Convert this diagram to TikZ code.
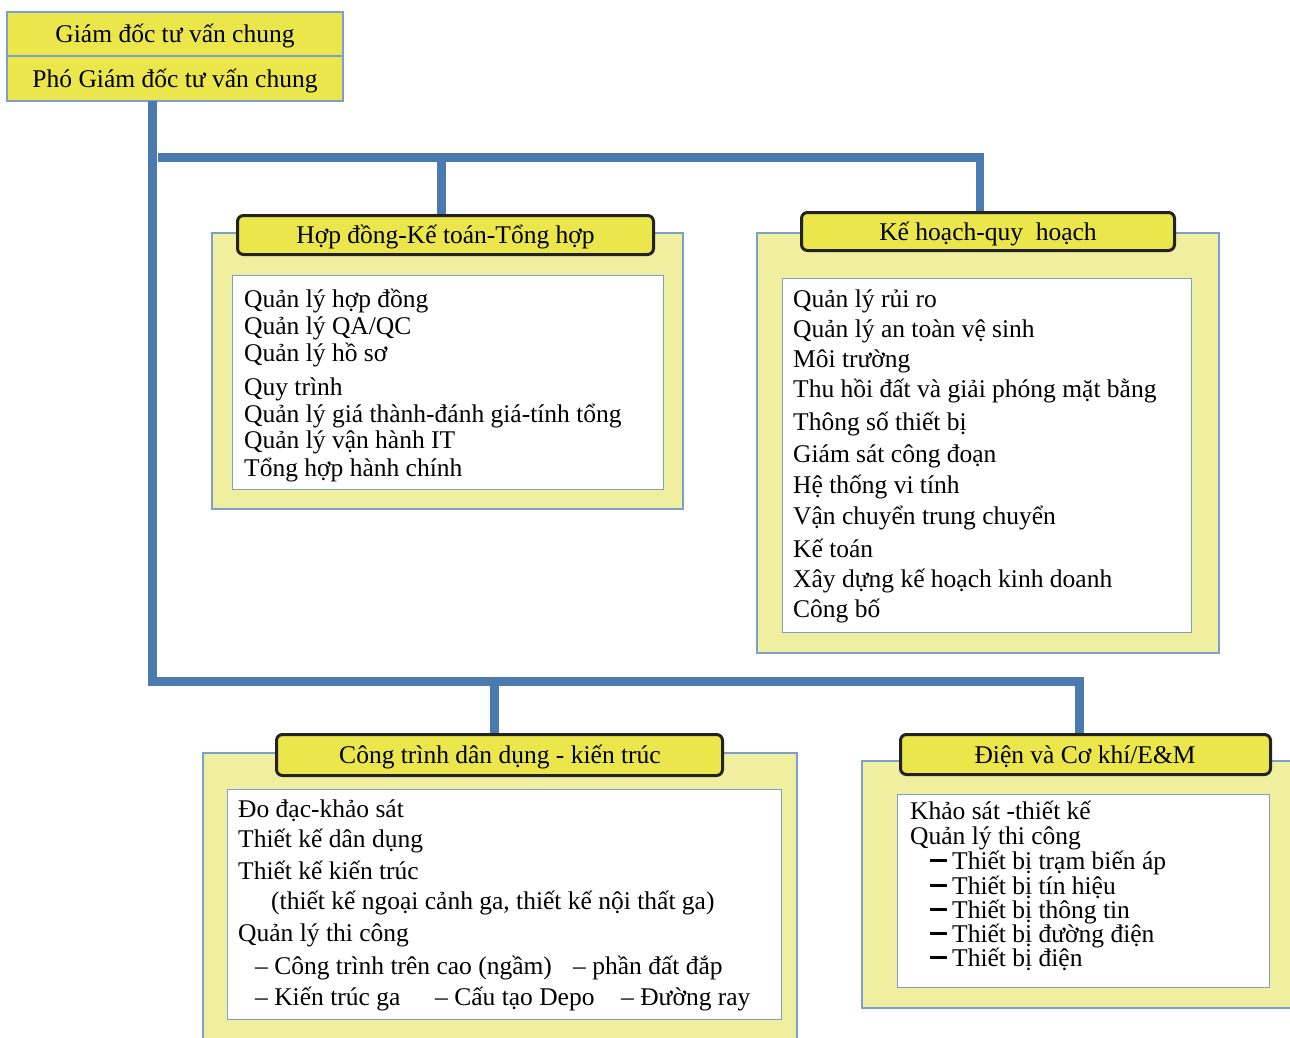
\documentclass[tikz,border=0pt]{standalone}
\usepackage{fontspec}
\setmainfont{Liberation Serif}
\usepackage{graphicx}
\definecolor{busblue}{HTML}{4A7AB0}
\definecolor{ttlyellow}{HTML}{EAE64B}
\definecolor{paleyellow}{HTML}{F0EE9F}
\definecolor{edgeblue}{HTML}{7A9FD0}
\definecolor{darkedge}{HTML}{222222}
\begin{document}
\begin{tikzpicture}[x=1pt,y=-1pt,
  bus/.style={draw=busblue,line width=8.5pt,line cap=butt,line join=miter},
  topcell/.style={draw=edgeblue,line width=1.2pt,fill=ttlyellow,anchor=north west,inner sep=0,outer sep=0},
  outerbox/.style={draw=edgeblue,line width=1.2pt,fill=paleyellow,anchor=north west,inner sep=0,outer sep=0},
  innerbox/.style={draw=edgeblue,line width=1pt,fill=white,anchor=north west,inner sep=0,outer sep=0},
  ttlbox/.style={draw=darkedge,line width=3pt,fill=ttlyellow,rounded corners=6pt,anchor=north west,inner sep=0,outer sep=0},
  txt/.style={inner sep=0,anchor=base west,font=\fontsize{25.5}{30}\selectfont},
  ctxt/.style={inner sep=0,anchor=base,font=\fontsize{25.5}{30}\selectfont}]
\useasboundingbox (0,0) rectangle (1290,1037);
\fill[white] (0,0) rectangle (1290,1037);

% top boxes
\node[topcell,minimum width=336pt,minimum height=44pt] (gd) at (7,12) {};
\node[topcell,minimum width=336pt,minimum height=45pt] (pgd) at (7,56) {};
\node[ctxt] (gdt) at (175,42) {Giám đốc tư vấn chung};
\node[ctxt] (pgdt) at (175,87) {Phó Giám đốc tư vấn chung};

% connectors
\coordinate (vtop) at (152.5,101);
\coordinate (lowcorner) at (152.5,681.5);
\coordinate (upleft) at (158,157.5);
\coordinate (upright) at (980,157.5);
\coordinate (lowright) at (1079.5,681.5);
\draw[bus] (vtop) -- (lowcorner) -- (lowright) -- (1079.5,734);
\draw[bus] (upleft) -- (upright) -- (980,212);
\draw[bus] (441.5,157.5) -- (441.5,215);
\draw[bus] (494.5,681.5) -- (494.5,735);

% box 1
\node[outerbox,minimum width=471pt,minimum height=276pt] (o1) at (212,233) {};
\node[innerbox,minimum width=431pt,minimum height=214pt] (i1) at (232,275) {};
\node[ttlbox,minimum width=416pt,minimum height=39pt] (t1) at (237.5,215.5) {};
\node[ctxt] (t1t) at (445.5,243) {Hợp đồng-Kế toán-Tổng hợp};
\foreach \yy/\tx [count=\i] in {307/{Quản lý hợp đồng},334/{Quản lý QA/QC},361/{Quản lý hồ sơ},395/{Quy trình},422/{Quản lý giá thành-đánh giá-tính tổng},448/{Quản lý vận hành IT},476/{Tổng hợp hành chính}}
  \node[txt] (a\i) at (244,\yy) {\tx};

% box 2
\node[outerbox,minimum width=462pt,minimum height=420pt] (o2) at (757,233) {};
\node[innerbox,minimum width=409pt,minimum height=354pt] (i2) at (782,278) {};
\node[ttlbox,minimum width=373pt,minimum height=38pt] (t2) at (801.5,212.5) {};
\node[ctxt] (t2t) at (988,240) {Kế hoạch-quy\ \ hoạch};
\foreach \yy/\tx [count=\i] in {307/{Quản lý rủi ro},337/{Quản lý an toàn vệ sinh},367/{Môi trường},397/{Thu hồi đất và giải phóng mặt bằng},430/{Thông số thiết bị},462/{Giám sát công đoạn},493/{Hệ thống vi tính},524/{Vận chuyển trung chuyển},557/{Kế toán},587/{Xây dựng kế hoạch kinh doanh},617/{Công bố}}
  \node[txt] (b\i) at (793,\yy) {\tx};

% box 3
\node[outerbox,minimum width=594pt,minimum height=300pt] (o3) at (203,753) {};
\node[innerbox,minimum width=554pt,minimum height=230pt] (i3) at (227,789) {};
\node[ttlbox,minimum width=446pt,minimum height=41pt] (t3) at (276.5,734.5) {};
\node[ctxt] (t3t) at (500,763) {Công trình dân dụng - kiến trúc};
\node[txt] (c1) at (238,817) {Đo đạc-khảo sát};
\node[txt] (c2) at (238,847) {Thiết kế dân dụng};
\node[txt] (c3) at (238,879) {Thiết kế kiến trúc};
\node[txt] (c4) at (271,909) {(thiết kế ngoại cảnh ga, thiết kế nội thất ga)};
\node[txt] (c5) at (238,941) {Quản lý thi công};
\node[txt] (c6) at (255,974) {– Công trình trên cao (ngầm)};
\node[txt] (c7) at (573,974) {– phần đất đắp};
\node[txt] (c8) at (255,1005) {– Kiến trúc ga};
\node[txt] (c9) at (435,1005) {– Cấu tạo Depo};
\node[txt] (c10) at (621,1005) {– Đường ray};

% box 4
\node[outerbox,minimum width=450pt,minimum height=247pt] (o4) at (862,761) {};
\node[innerbox,minimum width=372pt,minimum height=193pt] (i4) at (897,794) {};
\node[ttlbox,minimum width=370pt,minimum height=40pt] (t4) at (900.5,734.5) {};
\node[ctxt] (t4t) at (1085,763) {Điện và Cơ khí/E\&M};
\node[txt] (d1) at (910,819) {Khảo sát -thiết kế};
\node[txt] (d2) at (910,844) {Quản lý thi công};
\foreach \yy/\tx [count=\i] in {869/{Thiết bị trạm biến áp},894/{Thiết bị tín hiệu},918/{Thiết bị thông tin},942/{Thiết bị đường điện},966/{Thiết bị điện}}
  \node[txt] (e\i) at (930,\yy) {\rule[7.5pt]{17pt}{2.2pt}\kern5pt\tx};
\end{tikzpicture}
\end{document}
